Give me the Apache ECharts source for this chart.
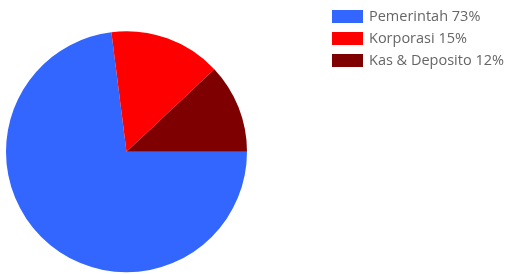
<!DOCTYPE html>
<html>
<head>
<meta charset="utf-8">
<script src="https://cdn.jsdelivr.net/npm/echarts@6/dist/echarts.min.js"></script>
<style>
html, body { margin: 0; padding: 0; background: #fff; }
#main { width: 508px; height: 274px; }
</style>
</head>
<body>
<div id="main"></div>
<script>
var names = ['Pemerintah', 'Korporasi', 'Kas & Deposito'];
var values = [73, 15, 12];
var colors = ['#3366FF', '#FF0000', '#7F0000'];

var pieData = [];
for (var i = 0; i < names.length; i++) {
    pieData.push({name: names[i], value: values[i], itemStyle: {color: colors[i]}});
}

var myChart = echarts.init(document.getElementById('main'));
var option = {
    animation: false,
    legend: {
        orient: 'vertical',
        left: 332,
        top: 9,
        padding: 0,
        itemWidth: 31,
        itemHeight: 13,
        itemGap: 7,
        icon: 'rect',
        textStyle: {
            fontFamily: 'Open Sans',
            fontSize: 14.5,
            lineHeight: 13,
            color: '#666',
            padding: [0, 0, 0, 1]
        },
        formatter: function (name) {
            var idx = names.indexOf(name);
            return name + ' ' + values[idx] + '%';
        },
        data: names
    },
    series: [
        {
            type: 'pie',
            center: [126.5, 151.7],
            radius: 120.5,
            startAngle: 0,
            clockwise: true,
            label: {show: false},
            labelLine: {show: false},
            itemStyle: {borderWidth: 0},
            data: pieData
        }
    ]
};
myChart.setOption(option);
</script>
</body>
</html>
